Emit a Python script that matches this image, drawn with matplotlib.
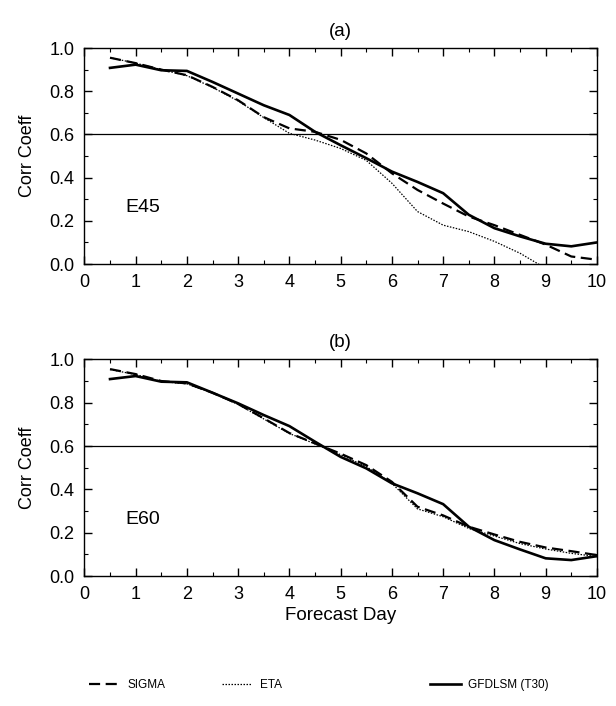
import matplotlib
matplotlib.use('Agg')
import matplotlib.pyplot as plt
from matplotlib.ticker import MultipleLocator, FormatStrFormatter

plt.rcParams['font.family'] = ['Liberation Sans', 'DejaVu Sans']

days = [0.5, 1, 1.5, 2, 2.5, 3, 3.5, 4, 4.5, 5, 5.5, 6, 6.5, 7, 7.5, 8, 8.5, 9, 9.5, 10]

# panel (a) E45
sigma_a = [0.955, 0.93, 0.90, 0.874, 0.82, 0.758, 0.68, 0.628, 0.612, 0.575, 0.512, 0.42, 0.343, 0.28, 0.22, 0.18, 0.135, 0.09, 0.035, 0.02]
eta_a = [0.955, 0.93, 0.90, 0.872, 0.818, 0.755, 0.678, 0.605, 0.574, 0.535, 0.48, 0.374, 0.243, 0.18, 0.15, 0.105, 0.05, -0.02]
gfdl_a = [0.908, 0.923, 0.897, 0.894, 0.843, 0.789, 0.735, 0.69, 0.612, 0.55, 0.49, 0.428, 0.38, 0.328, 0.228, 0.166, 0.128, 0.094, 0.082, 0.10]

# panel (b) E60
sigma_b = [0.955, 0.932, 0.90, 0.889, 0.846, 0.794, 0.728, 0.66, 0.612, 0.565, 0.512, 0.435, 0.32, 0.28, 0.228, 0.192, 0.158, 0.132, 0.115, 0.097]
eta_b = [0.953, 0.93, 0.898, 0.887, 0.845, 0.792, 0.725, 0.658, 0.61, 0.56, 0.505, 0.428, 0.31, 0.274, 0.22, 0.185, 0.15, 0.125, 0.105, 0.09]
gfdl_b = [0.909, 0.923, 0.897, 0.894, 0.846, 0.797, 0.743, 0.692, 0.62, 0.55, 0.497, 0.428, 0.382, 0.332, 0.228, 0.166, 0.123, 0.082, 0.074, 0.092]

fig = plt.figure(figsize=(6.16, 7.06), dpi=100)
ax_a = fig.add_axes([0.137, 0.626, 0.832, 0.306])
ax_b = fig.add_axes([0.137, 0.184, 0.832, 0.307])


def draw_panel(ax, sigma, eta, gfdl, title, label):
    ax.plot(days, sigma, color='black', lw=1.6, ls=(0, (5, 2.5)), label='SIGMA')
    ax.plot(days[:len(eta)], eta, color='black', lw=0.9, ls=(0, (1.2, 1.2)), label='ETA')
    ax.plot(days, gfdl, color='black', lw=1.9, label='GFDLSM (T30)')
    ax.axhline(0.6, color='black', lw=0.9)
    ax.set_xlim(0, 10)
    ax.set_ylim(0, 1.0)
    ax.xaxis.set_major_locator(MultipleLocator(1))
    ax.xaxis.set_minor_locator(MultipleLocator(0.5))
    ax.yaxis.set_major_locator(MultipleLocator(0.2))
    ax.yaxis.set_minor_locator(MultipleLocator(0.1))
    ax.yaxis.set_major_formatter(FormatStrFormatter('%.1f'))
    ax.tick_params(which='both', direction='in', top=True, right=True, labelsize=13, pad=7)
    ax.tick_params(which='major', length=6, width=1)
    ax.tick_params(which='minor', length=3, width=0.8)
    ax.set_ylabel('Corr Coeff', fontsize=13, labelpad=10)
    ax.set_title(title, fontsize=13.5, pad=9)
    ax.text(0.8, 0.26, label, fontsize=14, va='center')
    for s in ax.spines.values():
        s.set_linewidth(1.0)


draw_panel(ax_a, sigma_a, eta_a, gfdl_a, '(a)', 'E45')
draw_panel(ax_b, sigma_b, eta_b, gfdl_b, '(b)', 'E60')
ax_b.set_xlabel('Forecast Day', fontsize=13.5, labelpad=3)

handles, labels = ax_a.get_legend_handles_labels()
legend_x = [0.145, 0.36, 0.698]
for h, l, x in zip(handles, labels, legend_x):
    fig.legend([h], [l], loc='center left', bbox_to_anchor=(x, 0.03), frameon=False,
               fontsize=8.5, handlelength=2.6, handletextpad=0.6, borderpad=0, borderaxespad=0)

fig.savefig('out.png', dpi=100)
